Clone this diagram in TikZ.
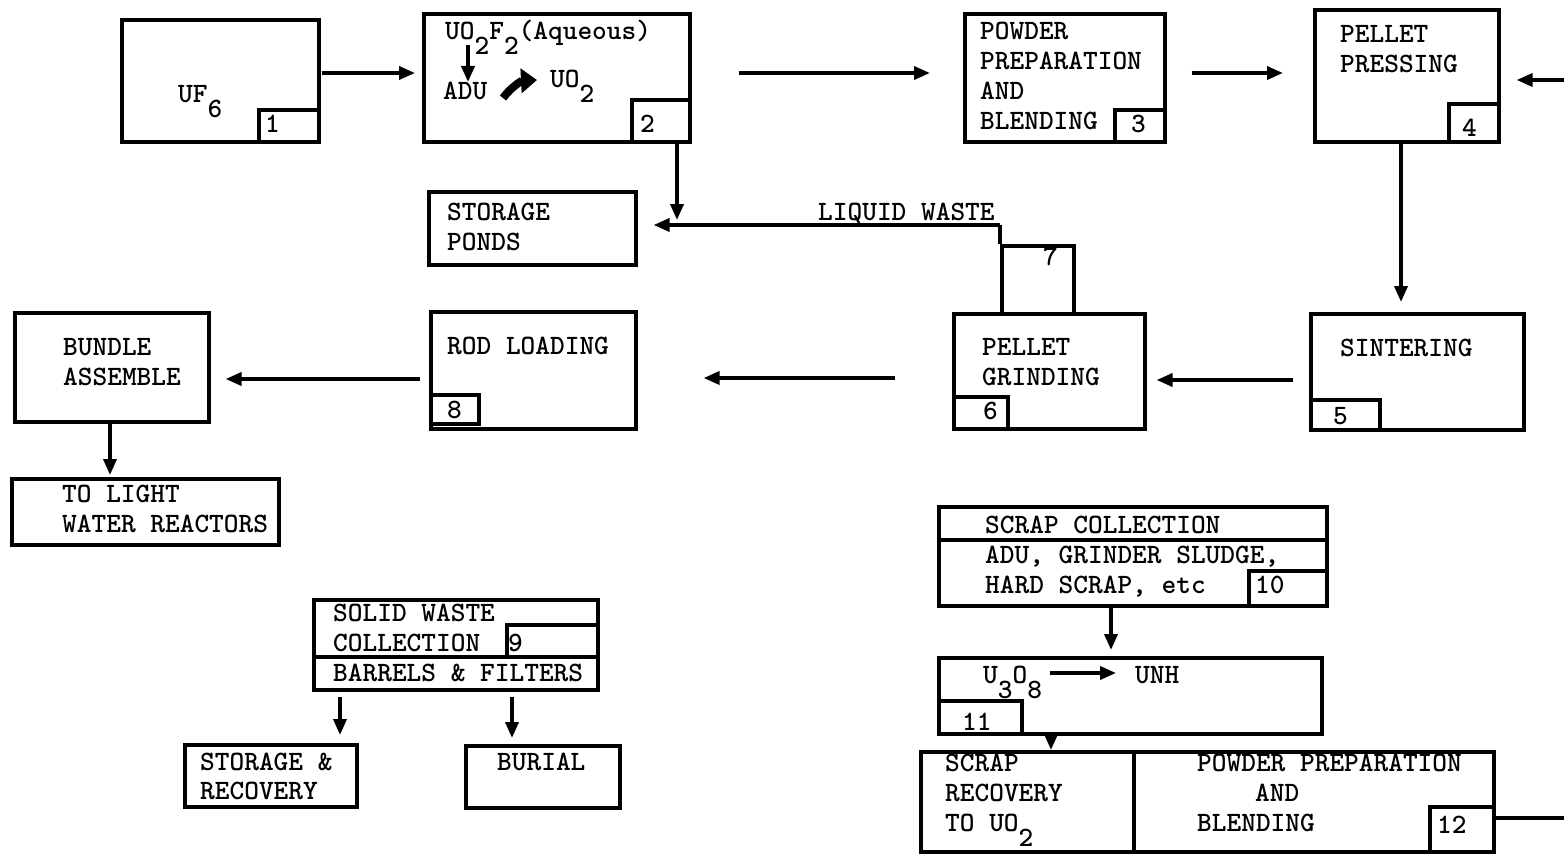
\documentclass[tikz,border=0pt]{standalone}
\usetikzlibrary{arrows.meta}
\newcommand\dn[1]{\raisebox{-15pt}{#1}}
\newcommand\tx{\fontsize{28}{30}\selectfont\ttfamily\bfseries}
\begin{document}
\begin{tikzpicture}[x=1pt,y=-1pt,
  box/.style={draw,line width=3.6pt,inner sep=0pt,anchor=north west,rectangle},
  txt/.style={anchor=base west,inner sep=0pt,font=\tx},
  arr/.style={line width=3.6pt,-{Triangle[length=16pt,width=13pt]}},
  ln/.style={line width=3.6pt}]
\useasboundingbox (0,0) rectangle (1564,856);
\fill[white] (0,0) rectangle (1564,856);
% boxes
\node[box,minimum width=197pt,minimum height=122pt] (b1) at (120,18) {};
\node[box,minimum width=60pt,minimum height=32pt] (n1) at (257,108) {};
\node[box,minimum width=266pt,minimum height=128pt] (b2) at (422,12) {};
\node[box,minimum width=58pt,minimum height=42pt] (n2) at (630,98) {};
\node[box,minimum width=200pt,minimum height=128pt] (b3) at (963,12) {};
\node[box,minimum width=50pt,minimum height=32pt] (n3) at (1113,108) {};
\node[box,minimum width=184pt,minimum height=132pt] (b4) at (1313,8) {};
\node[box,minimum width=50pt,minimum height=38pt] (n4) at (1447,102) {};
\node[box,minimum width=213pt,minimum height=116pt] (b5) at (1309,312) {};
\node[box,minimum width=69pt,minimum height=30pt] (n5) at (1309,398) {};
\node[box,minimum width=191pt,minimum height=115pt] (b6) at (952,312) {};
\node[box,minimum width=54pt,minimum height=32pt] (n6) at (952,395) {};
\node[box,minimum width=72pt,minimum height=68pt] (b7) at (1000,244) {};
\node[box,minimum width=207pt,minimum height=73pt] (sp) at (427,190) {};
\node[box,minimum width=205pt,minimum height=117pt] (b8) at (429,310) {};
\node[box,minimum width=48pt,minimum height=29pt] (n8) at (429,393) {};
\node[box,minimum width=194pt,minimum height=109pt] (bd) at (13,311) {};
\node[box,minimum width=267pt,minimum height=66pt] (lw) at (10,477) {};
\node[box,minimum width=284pt,minimum height=90pt] (sw) at (312,598) {};
\node[box,minimum width=91pt,minimum height=32pt] (n9) at (505,623) {};
\node[box,minimum width=284pt,minimum height=33pt] (swb) at (312,655) {};
\node[box,minimum width=172pt,minimum height=62pt] (sr) at (183,743) {};
\node[box,minimum width=154pt,minimum height=62pt] (bu) at (464,744) {};
\node[box,minimum width=388pt,minimum height=99pt] (sc) at (937,505) {};
\node[box,minimum width=388pt,minimum height=33pt] (sct) at (937,505) {};
\node[box,minimum width=78pt,minimum height=35pt] (n10) at (1247,569) {};
\node[box,minimum width=383pt,minimum height=76pt] (b11) at (937,656) {};
\node[box,minimum width=83pt,minimum height=33pt] (n11) at (937,699) {};
\node[box,minimum width=213pt,minimum height=100pt] (b12a) at (919,750) {};
\node[box,minimum width=360pt,minimum height=100pt] (b12b) at (1132,750) {};
\node[box,minimum width=64pt,minimum height=45pt] (n12) at (1428,805) {};
% texts
\node[txt] at (178,103) {UF\dn{6}};
\node[txt] at (265,133) {1};
\node[txt] at (445,40) {UO\dn{2}F\dn{2}(Aqueous)};
\node[txt] at (443,100) {ADU};
\node[txt] at (550,88) {UO\dn{2}};
\node[txt] at (640,133) {2};
\node[txt] at (980,40) {POWDER};
\node[txt] at (980,70) {PREPARATION};
\node[txt] at (980,100) {AND};
\node[txt] at (980,130) {BLENDING};
\node[txt] at (1131,133) {3};
\node[txt] at (1340,43) {PELLET};
\node[txt] at (1340,73) {PRESSING};
\node[txt] at (1462,137) {4};
\node[txt] at (1340,356) {SINTERING};
\node[txt] at (1333,424) {5};
\node[txt] at (982,355) {PELLET};
\node[txt] at (982,385) {GRINDING};
\node[txt] at (983,419) {6};
\node[txt] at (1043,265) {7};
\node[txt] at (818,220) {LIQUID WASTE};
\node[txt] at (447,220) {STORAGE};
\node[txt] at (447,250) {PONDS};
\node[txt] at (447,354) {ROD LOADING};
\node[txt] at (447,418) {8};
\node[txt] at (63,355) {BUNDLE};
\node[txt] at (63,385) {ASSEMBLE};
\node[txt] at (62,502) {TO LIGHT};
\node[txt] at (62,532) {WATER REACTORS};
\node[txt] at (333,621) {SOLID WASTE};
\node[txt] at (333,651) {COLLECTION};
\node[txt] at (508,651) {9};
\node[txt] at (333,681) {BARRELS \& FILTERS};
\node[txt] at (200,770) {STORAGE \&};
\node[txt] at (200,799) {RECOVERY};
\node[txt] at (497,770) {BURIAL};
\node[txt] at (985,533) {SCRAP COLLECTION};
\node[txt] at (985,563) {ADU, GRINDER SLUDGE,};
\node[txt] at (985,593) {HARD SCRAP, etc};
\node[txt] at (1255,593) {10};
\node[txt] (u38) at (983,683) {U\dn{3}O\dn{8}};
\node[txt] (unh) at (1135,683) {UNH};
\node[txt] at (962,730) {11};
\node[txt] at (945,771) {SCRAP};
\node[txt] at (945,801) {RECOVERY};
\node[txt] at (945,831) {TO UO\dn{2}};
\node[txt] at (1197,771) {POWDER PREPARATION};
\node[txt] at (1255,801) {AND};
\node[txt] at (1197,831) {BLENDING};
\node[txt] at (1437,833) {12};
% inner arrows
\draw[arr] (468,45) -- (468,82);
\draw[line width=8pt,-{Triangle[length=16pt,width=24pt]}] (503,98) to[bend left=25] (537,80);
\draw[arr] (1050,673) -- (1116,673);
% connectors
\draw[arr,shorten <=1pt,shorten >=7pt] (b1.east|-0,73) -- (b2.west|-0,73);
\draw[arr,shorten <=47pt,shorten >=33pt] (b2.east|-0,73) -- (b3.west|-0,73);
\draw[arr,shorten <=25pt,shorten >=30pt] (b3.east|-0,73) -- (b4.west|-0,73);
\coordinate (rin) at (1564,80);
\draw[arr,shorten >=16pt] (rin) -- (b4.east|-rin);
\draw[arr,shorten >=10pt] (b4.south-|1401,0) -- (b5.north-|1401,0);
\draw[arr,shorten <=16pt,shorten >=10pt] (b5.west|-0,380) -- (b6.east|-0,380);
\draw[arr,shorten <=57pt,shorten >=66pt] (b6.west|-0,378) -- (b8.east|-0,378);
\draw[arr,shorten <=9pt,shorten >=15pt] (b8.west|-0,379) -- (bd.east|-0,379);
\draw[arr,shorten >=2pt] (bd.south-|110,0) -- (lw.north-|110,0);
\coordinate (lwc) at (1000,225);
\draw[arr,shorten >=5pt] (b2.south-|677,0) -- (677,225);
\draw[ln] (b7.north west) -- (lwc);
\draw[arr,shorten >=16pt] (lwc) -- (sp.east|-lwc);
\draw[arr,shorten <=5pt,shorten >=8pt] (sw.south-|340,0) -- (sr.north-|340,0);
\draw[arr,shorten <=5pt,shorten >=6pt] (sw.south-|512,0) -- (bu.north-|512,0);
\draw[arr,shorten >=6pt] (sc.south-|1111,0) -- (b11.north-|1111,0);
\draw[arr,shorten >=0pt] (b11.south-|1051,0) -- (b12a.north-|1051,0);
\coordinate (rout) at (1564,818);
\draw[ln] (b12b.east|-rout) -- (rout);
\end{tikzpicture}
\end{document}
